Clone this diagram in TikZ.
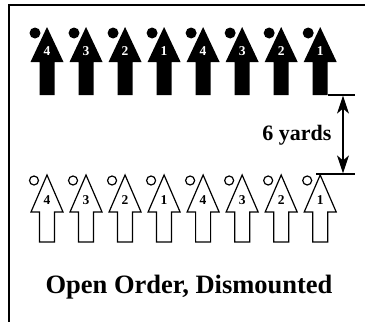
\documentclass[tikz,border=0pt]{standalone}
\usepackage{fontspec}
\setmainfont{Liberation Serif}
\usetikzlibrary{arrows.meta}

\tikzset{
	number/.style = {inner sep = 0pt, font = \bfseries\fontsize{13.5}{13.5}\selectfont},
	caption/.style = {inner sep = 0pt, font = \bfseries\fontsize{22}{22}\selectfont},
	heading/.style = {inner sep = 0pt, font = \bfseries\fontsize{26.5}{26.5}\selectfont},
	yard/.style = {{Stealth[length = 18pt, width = 12pt, inset = 5pt]}-{Stealth[length = 18pt, width = 12pt, inset = 5pt]}, line width = 1.3pt}
}

\begin{document}
\begin{tikzpicture}[x = 1pt, y = -1pt, line join = miter]
	\useasboundingbox (0, 0) rectangle (365, 322);

	\draw [line width = 2pt] (8.5, 322) -- (8.5, 5) -- (365, 5);

	\foreach \n [count = \i from 0] in {4, 3, 2, 1, 4, 3, 2, 1} {
		\pgfmathsetmacro{\c}{47 + 39.03 * \i}
		\fill [black] (\c - 12, 33) circle [radius = 5.5pt];
		\fill [black] (\c, 27) -- ++(16.5, 35) -- ++(-9, 0) -- ++(0, 33) -- ++(-15, 0) -- ++(0, -33) -- ++(-9, 0) -- cycle;
		\node [number, text = white] (m\i) at (\c, 51) {\n};

		\draw [line width = 1.2pt] (\c - 13, 180.5) circle [radius = 4.5pt];
		\draw [line width = 1.2pt] (\c, 175) -- ++(16, 37) -- ++(-8.5, 0) -- ++(0, 30) -- ++(-15, 0) -- ++(0, -30) -- ++(-8.5, 0) -- cycle;
		\node [number] (d\i) at (\c, 200) {\n};
	}

	\coordinate (t1) at (327.5, 95);
	\coordinate (t2) at (355, 95);
	\coordinate (b1) at (316, 174);
	\coordinate (b2) at (355, 174);
	\coordinate (up) at (343, 95.6);
	\coordinate (dn) at (343, 173.4);

	\draw [line width = 1.3pt] (t1) -- (t2);
	\draw [line width = 1.3pt] (b1) -- (b2);
	\draw [yard] (up) -- (dn);

	\node [caption] (gap) at (297, 135) {6 yards};
	\node [heading] (title) at (189, 287) {Open Order, Dismounted};
\end{tikzpicture}
\end{document}
